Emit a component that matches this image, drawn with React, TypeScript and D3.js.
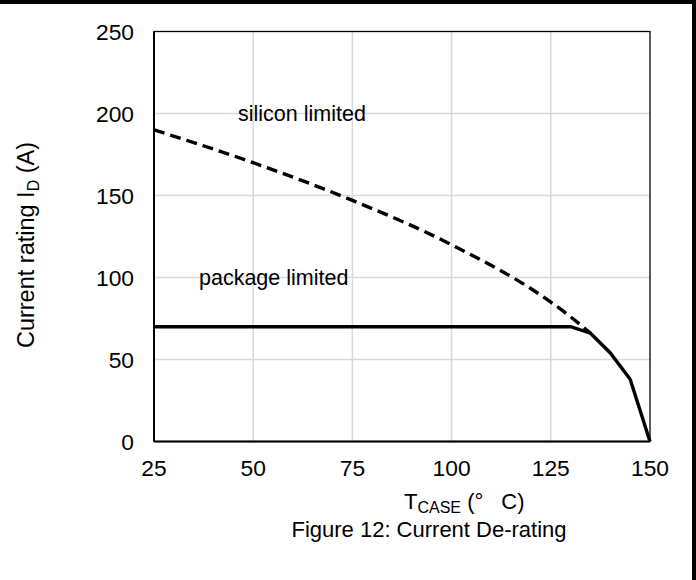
import React from "react";
import * as d3 from "d3";

// Silicon-limited rating (dashed curve)
const siliconTemp = [25, 50, 75, 100, 125, 130, 135];
const siliconCurrent = [190, 170, 147, 120, 85, 76, 66];

// Package-limited rating (solid line)
const packageTemp = [25, 130, 135, 140, 145, 150];
const packageCurrent = [70, 70, 66, 54, 38, 0];

const xTicks = [25, 50, 75, 100, 125, 150];
const yTicks = [0, 50, 100, 150, 200, 250];

const W = 696;
const H = 580;
const FONT = "'Liberation Sans', Arial, Helvetica, sans-serif";
const FS = 22;
const TICK_FS = 22.8;

export default function App() {
  const plotL = 154;
  const plotR = 650;
  const plotT = 31.5;
  const plotB = 441.5;

  const x = d3.scaleLinear().domain([25, 150]).range([plotL, plotR]);
  const y = d3.scaleLinear().domain([0, 250]).range([plotB, plotT]);

  const silicon = siliconTemp.map((t, i) => [t, siliconCurrent[i]] as [number, number]);
  const pkg = packageTemp.map((t, i) => [t, packageCurrent[i]] as [number, number]);

  const smoothLine = d3
    .line<[number, number]>()
    .x((d) => x(d[0]))
    .y((d) => y(d[1]))
    .curve(d3.curveMonotoneX);
  const straightLine = d3
    .line<[number, number]>()
    .x((d) => x(d[0]))
    .y((d) => y(d[1]));

  return (
    <svg
      width={W}
      height={H}
      style={{ position: "absolute", left: 0, top: 0, background: "#fff" }}
      fontFamily={FONT}
    >
      <rect x={0} y={0} width={W} height={H} fill="#fff" />
      {/* frame edges */}
      <line x1={0} x2={W} y1={2} y2={2} stroke="#000" strokeWidth={4} />
      <line x1={694} x2={694} y1={0} y2={H} stroke="#000" strokeWidth={4} />

      {/* grid */}
      {xTicks
        .filter((t) => t !== 25 && t !== 150)
        .map((t) => (
          <line key={"gx" + t} x1={x(t)} x2={x(t)} y1={plotT} y2={plotB} stroke="#d9d9d9" strokeWidth={1.5} />
        ))}
      {yTicks
        .filter((t) => t !== 0 && t !== 250)
        .map((t) => (
          <line key={"gy" + t} x1={plotL} x2={plotR} y1={y(t)} y2={y(t)} stroke="#d9d9d9" strokeWidth={1.5} />
        ))}

      {/* plot border */}
      <rect x={plotL} y={plotT} width={plotR - plotL} height={plotB - plotT} fill="none" stroke="#000" strokeWidth={1.3} />
      <line x1={plotL} x2={plotL} y1={plotT} y2={plotB} stroke="#000" strokeWidth={2} />
      <line x1={plotL} x2={plotR} y1={plotB} y2={plotB} stroke="#000" strokeWidth={2} />

      {/* curves */}
      <path d={smoothLine(silicon) || ""} fill="none" stroke="#000" strokeWidth={3.4} strokeDasharray="11 6" />
      <path d={straightLine(pkg) || ""} fill="none" stroke="#000" strokeWidth={3.4} strokeLinejoin="miter" />

      {/* tick labels */}
      {yTicks.map((t) => (
        <text key={"yl" + t} x={134} y={y(t)} dy="0.36em" textAnchor="end" fontSize={TICK_FS} fill="#000">
          {t}
        </text>
      ))}
      {xTicks.map((t) => (
        <text key={"xl" + t} x={x(t)} y={476} textAnchor="middle" fontSize={TICK_FS} fill="#000">
          {t}
        </text>
      ))}

      {/* annotations */}
      <text x={238} y={121} fontSize={21.5} fill="#000">silicon limited</text>
      <text x={199} y={285} fontSize={21.5} fill="#000">package limited</text>

      {/* y title */}
      <text transform="translate(34,245) rotate(-90)" textAnchor="middle" fontSize={23.5} fill="#000">
        Current rating I<tspan baselineShift="-30%" fontSize={16}>D</tspan> (A)
      </text>

      {/* x title */}
      <text x={404} y={509} fontSize={FS} fill="#000">
        T<tspan baselineShift="-25%" fontSize={16}>CASE</tspan> (°<tspan dx={18}>C)</tspan>
      </text>
      <text x={429} y={537} textAnchor="middle" fontSize={FS} fill="#000">
        Figure 12: Current De-rating
      </text>
    </svg>
  );
}
